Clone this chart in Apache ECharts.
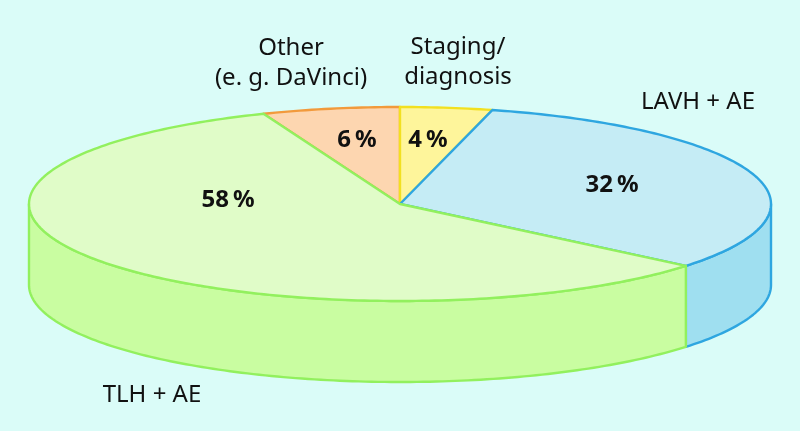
<!DOCTYPE html>
<html>
<head>
<meta charset="utf-8">
<script src="https://cdn.jsdelivr.net/npm/echarts@6/dist/echarts.min.js"></script>
<style>
  html, body { margin: 0; padding: 0; background: #dafcf8; }
  #chart { width: 800px; height: 431px; }
</style>
</head>
<body>
<div id="chart"></div>
<script>
// ---- data (clockwise from the top-left) ----
var categories = ['Other\n(e. g. DaVinci)', 'Staging/\ndiagnosis', 'LAVH + AE', 'TLH + AE'];
var values = [6, 4, 32, 58];
var percentLabels = ['6 %', '4 %', '32 %', '58 %'];

// ---- styles / layout ----
var FONT = '"Noto Sans", "Open Sans", sans-serif';
var topColors = ['#fdd6b0', '#fef59b', '#c5ecf5', '#e0fcc8'];
var sideColors = ['#f8c498', '#f6ec80', '#9fdff0', '#c9fda1'];
var strokeColors = ['#f29a3c', '#f2e020', '#2ea6e0', '#92f05e'];
var CX = 400, CY = 204, RX = 371, RY = 97, DEPTH = 81;
var START_ANGLE = 111.6; // degrees, parametric, counter-clockwise from +x
var percentAnchors = [[357, 140], [428, 140], [612, 185], [228, 200]];
var categoryAnchors = [[291, 63], [458, 62], [698, 102], [152, 395]];

var total = values.reduce(function (a, b) { return a + b; }, 0);

function pt(tDeg, dy) {
  var t = tDeg * Math.PI / 180;
  return [CX + RX * Math.cos(t), CY - RY * Math.sin(t) + (dy || 0)];
}

function arcPoints(from, to, dy) {
  var pts = [];
  var n = Math.max(2, Math.ceil(Math.abs(to - from)));
  for (var i = 0; i <= n; i++) {
    pts.push(pt(from + (to - from) * i / n, dy));
  }
  return pts;
}

function frontRanges(lo, hi) {
  var out = [];
  for (var k = -2; k <= 2; k++) {
    var l = Math.max(lo + 360 * k, -180), h = Math.min(hi + 360 * k, 0);
    if (l < h) out.push([l, h]);
  }
  return out;
}

function renderItem(params, api) {
  var idx = params.dataIndex;
  var before = 0;
  for (var i = 0; i < idx; i++) before += values[i];
  var a0 = START_ANGLE - before / total * 360;
  var a1 = a0 - api.value(0) / total * 360;
  var children = [];

  frontRanges(a1, a0).forEach(function (r) {
    var topArc = arcPoints(r[0], r[1], 0);
    var botArc = arcPoints(r[1], r[0], DEPTH);
    children.push({
      type: 'polygon',
      shape: { points: topArc.concat(botArc) },
      style: { fill: sideColors[idx], stroke: strokeColors[idx], lineWidth: 2.4, lineJoin: 'round' }
    });
  });

  var topPts = [[CX, CY]].concat(arcPoints(a0, a1, 0));
  children.push({
    type: 'polygon',
    shape: { points: topPts },
    style: { fill: topColors[idx], stroke: strokeColors[idx], lineWidth: 2.4, lineJoin: 'round' }
  });

  var pa = percentAnchors[idx];
  children.push({
    type: 'text',
    x: pa[0], y: pa[1],
    style: {
      text: percentLabels[idx].replace(' ', '\u2009'),
      font: 'bold 24px ' + FONT,
      fill: '#111111',
      align: 'center',
      verticalAlign: 'middle'
    }
  });
  return { type: 'group', children: children };
}

var chart = echarts.init(document.getElementById('chart'), null, { renderer: 'canvas' });
chart.setOption({
  backgroundColor: '#dafcf8',
  animation: false,
  series: [{
    type: 'custom',
    coordinateSystem: 'none',
    renderItem: renderItem,
    data: values.map(function (v) { return [v]; }),
    silent: true
  }],
  graphic: categories.map(function (c, i) {
    return {
      type: 'text',
      x: categoryAnchors[i][0],
      y: categoryAnchors[i][1],
      style: {
        text: c,
        font: '24px ' + FONT,
        lineHeight: 30,
        fill: '#111111',
        align: 'center',
        verticalAlign: 'middle'
      }
    };
  })
});
</script>
</body>
</html>
